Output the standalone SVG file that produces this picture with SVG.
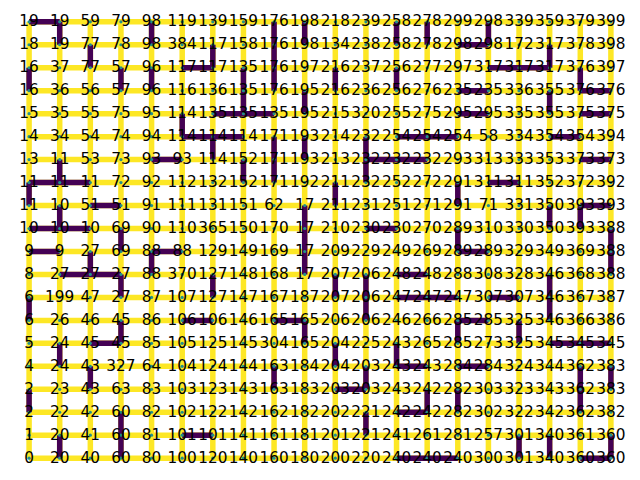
<svg xmlns="http://www.w3.org/2000/svg" width="640" height="480" viewBox="0 0 640 480">
<style>
.y{stroke:#fde725;stroke-width:5.5;fill:none}
.p{stroke:#440154;stroke-width:5.5;fill:none}
circle{fill:#22908c}
text{font-family:"DejaVu Sans",sans-serif;font-size:15.3px;fill:#000;text-anchor:middle}
</style>
<rect width="640" height="480" fill="#fff"/>
<g id="connectors">
<path class="y" d="M29.09,21.81H610.91M29.09,44.77H610.91M29.09,67.74H610.91M29.09,90.71H610.91M29.09,113.67H610.91M29.09,136.64H610.91M29.09,159.61H610.91M29.09,182.58H610.91M29.09,205.54H610.91M29.09,228.51H610.91M29.09,251.48H610.91M29.09,274.44H610.91M29.09,297.41H610.91M29.09,320.38H610.91M29.09,343.35H610.91M29.09,366.31H610.91M29.09,389.28H610.91M29.09,412.25H610.91M29.09,435.21H610.91M29.09,458.18H610.91M29.09,21.81V458.18M59.71,21.81V458.18M90.33,21.81V458.18M120.96,21.81V458.18M151.58,21.81V458.18M182.2,21.81V458.18M212.82,21.81V458.18M243.44,21.81V458.18M274.07,21.81V458.18M304.69,21.81V458.18M335.31,21.81V458.18M365.93,21.81V458.18M396.55,21.81V458.18M427.18,21.81V458.18M457.8,21.81V458.18M488.42,21.81V458.18M519.04,21.81V458.18M549.66,21.81V458.18M580.29,21.81V458.18M610.91,21.81V458.18"/>
<path class="p" d="M29.09,21.81H59.71M457.8,44.77H488.42M182.2,67.74H212.82M488.42,67.74H549.66M457.8,90.71H488.42M580.29,90.71H610.91M212.82,113.67H274.07M457.8,113.67H488.42M580.29,113.67H610.91M182.2,136.64H243.44M396.55,136.64H457.8M549.66,136.64H580.29M151.58,159.61H182.2M365.93,159.61H427.18M580.29,159.61H610.91M29.09,182.58H90.33M488.42,182.58H519.04M90.33,205.54H120.96M580.29,205.54H610.91M29.09,228.51H90.33M365.93,228.51H396.55M29.09,251.48H59.71M151.58,251.48H182.2M457.8,251.48H488.42M59.71,274.44H120.96M396.55,274.44H427.18M396.55,297.41H457.8M488.42,297.41H519.04M182.2,320.38H212.82M274.07,320.38H304.69M457.8,320.38H488.42M90.33,343.35H120.96M549.66,343.35H610.91M396.55,366.31H427.18M457.8,366.31H488.42M335.31,389.28H365.93M396.55,412.25H427.18M182.2,435.21H212.82M396.55,458.18H457.8M580.29,458.18H610.91
M29.09,67.74V90.71M29.09,182.58V205.54M29.09,297.41V320.38M29.09,389.28V412.25
M59.71,21.81V44.77M59.71,159.61V182.58M59.71,205.54V228.51M59.71,343.35V366.31M59.71,435.21V458.18
M90.33,44.77V67.74M90.33,251.48V274.44M90.33,366.31V389.28
M120.96,67.74V90.71M120.96,228.51V251.48M120.96,274.44V297.41M120.96,320.38V343.35M120.96,412.25V458.18
M151.58,21.81V44.77M151.58,67.74V90.71M151.58,251.48V274.44
M182.2,113.67V136.64
M212.82,44.77V67.74M212.82,136.64V159.61M212.82,274.44V297.41
M243.44,67.74V113.67M243.44,159.61V182.58
M274.07,21.81V90.71M274.07,136.64V182.58M274.07,366.31V389.28
M304.69,21.81V44.77M304.69,90.71V113.67M304.69,136.64V159.61M304.69,205.54V274.44M304.69,320.38V343.35
M335.31,67.74V90.71M335.31,182.58V205.54M335.31,274.44V297.41M335.31,343.35V366.31
M365.93,136.64V182.58M365.93,274.44V320.38M365.93,366.31V389.28M365.93,412.25V435.21
M396.55,21.81V44.77M396.55,67.74V90.71M396.55,343.35V366.31
M427.18,21.81V44.77M427.18,389.28V412.25
M457.8,182.58V205.54M457.8,228.51V251.48M457.8,320.38V343.35M457.8,389.28V412.25
M488.42,21.81V44.77
M519.04,320.38V343.35M519.04,435.21V458.18
M549.66,44.77V67.74M549.66,90.71V113.67M549.66,205.54V228.51M549.66,274.44V320.38M549.66,435.21V458.18
M580.29,67.74V90.71M580.29,205.54V228.51M580.29,366.31V412.25
M610.91,228.51V274.44M610.91,366.31V389.28M610.91,435.21V458.18"/>
</g>
<g id="nodes">
<g id="n0_19" transform="translate(29.09,21.81)"><circle r="1.6"/><text y="4.5">19</text></g>
<g id="n1_19" transform="translate(59.71,21.81)"><circle r="1.6"/><text y="4.5">19</text></g>
<g id="n2_19" transform="translate(90.33,21.81)"><circle r="1.6"/><text y="4.5">59</text></g>
<g id="n3_19" transform="translate(120.96,21.81)"><circle r="1.6"/><text y="4.5">79</text></g>
<g id="n4_19" transform="translate(151.58,21.81)"><circle r="1.6"/><text y="4.5">98</text></g>
<g id="n5_19" transform="translate(182.2,21.81)"><circle r="1.6"/><text y="4.5">119</text></g>
<g id="n6_19" transform="translate(212.82,21.81)"><circle r="1.6"/><text y="4.5">139</text></g>
<g id="n7_19" transform="translate(243.44,21.81)"><circle r="1.6"/><text y="4.5">159</text></g>
<g id="n8_19" transform="translate(274.07,21.81)"><circle r="1.6"/><text y="4.5">176</text></g>
<g id="n9_19" transform="translate(304.69,21.81)"><circle r="1.6"/><text y="4.5">198</text></g>
<g id="n10_19" transform="translate(335.31,21.81)"><circle r="1.6"/><text y="4.5">218</text></g>
<g id="n11_19" transform="translate(365.93,21.81)"><circle r="1.6"/><text y="4.5">239</text></g>
<g id="n12_19" transform="translate(396.55,21.81)"><circle r="1.6"/><text y="4.5">258</text></g>
<g id="n13_19" transform="translate(427.18,21.81)"><circle r="1.6"/><text y="4.5">278</text></g>
<g id="n14_19" transform="translate(457.8,21.81)"><circle r="1.6"/><text y="4.5">299</text></g>
<g id="n15_19" transform="translate(488.42,21.81)"><circle r="1.6"/><text y="4.5">298</text></g>
<g id="n16_19" transform="translate(519.04,21.81)"><circle r="1.6"/><text y="4.5">339</text></g>
<g id="n17_19" transform="translate(549.66,21.81)"><circle r="1.6"/><text y="4.5">359</text></g>
<g id="n18_19" transform="translate(580.29,21.81)"><circle r="1.6"/><text y="4.5">379</text></g>
<g id="n19_19" transform="translate(610.91,21.81)"><circle r="1.6"/><text y="4.5">399</text></g>
<g id="n0_18" transform="translate(29.09,44.77)"><circle r="1.6"/><text y="4.5">18</text></g>
<g id="n1_18" transform="translate(59.71,44.77)"><circle r="1.6"/><text y="4.5">19</text></g>
<g id="n2_18" transform="translate(90.33,44.77)"><circle r="1.6"/><text y="4.5">77</text></g>
<g id="n3_18" transform="translate(120.96,44.77)"><circle r="1.6"/><text y="4.5">78</text></g>
<g id="n4_18" transform="translate(151.58,44.77)"><circle r="1.6"/><text y="4.5">98</text></g>
<g id="n5_18" transform="translate(182.2,44.77)"><circle r="1.6"/><text y="4.5">384</text></g>
<g id="n6_18" transform="translate(212.82,44.77)"><circle r="1.6"/><text y="4.5">117</text></g>
<g id="n7_18" transform="translate(243.44,44.77)"><circle r="1.6"/><text y="4.5">158</text></g>
<g id="n8_18" transform="translate(274.07,44.77)"><circle r="1.6"/><text y="4.5">176</text></g>
<g id="n9_18" transform="translate(304.69,44.77)"><circle r="1.6"/><text y="4.5">198</text></g>
<g id="n10_18" transform="translate(335.31,44.77)"><circle r="1.6"/><text y="4.5">134</text></g>
<g id="n11_18" transform="translate(365.93,44.77)"><circle r="1.6"/><text y="4.5">238</text></g>
<g id="n12_18" transform="translate(396.55,44.77)"><circle r="1.6"/><text y="4.5">258</text></g>
<g id="n13_18" transform="translate(427.18,44.77)"><circle r="1.6"/><text y="4.5">278</text></g>
<g id="n14_18" transform="translate(457.8,44.77)"><circle r="1.6"/><text y="4.5">298</text></g>
<g id="n15_18" transform="translate(488.42,44.77)"><circle r="1.6"/><text y="4.5">298</text></g>
<g id="n16_18" transform="translate(519.04,44.77)"><circle r="1.6"/><text y="4.5">172</text></g>
<g id="n17_18" transform="translate(549.66,44.77)"><circle r="1.6"/><text y="4.5">317</text></g>
<g id="n18_18" transform="translate(580.29,44.77)"><circle r="1.6"/><text y="4.5">378</text></g>
<g id="n19_18" transform="translate(610.91,44.77)"><circle r="1.6"/><text y="4.5">398</text></g>
<g id="n0_17" transform="translate(29.09,67.74)"><circle r="1.6"/><text y="4.5">16</text></g>
<g id="n1_17" transform="translate(59.71,67.74)"><circle r="1.6"/><text y="4.5">37</text></g>
<g id="n2_17" transform="translate(90.33,67.74)"><circle r="1.6"/><text y="4.5">77</text></g>
<g id="n3_17" transform="translate(120.96,67.74)"><circle r="1.6"/><text y="4.5">57</text></g>
<g id="n4_17" transform="translate(151.58,67.74)"><circle r="1.6"/><text y="4.5">96</text></g>
<g id="n5_17" transform="translate(182.2,67.74)"><circle r="1.6"/><text y="4.5">117</text></g>
<g id="n6_17" transform="translate(212.82,67.74)"><circle r="1.6"/><text y="4.5">117</text></g>
<g id="n7_17" transform="translate(243.44,67.74)"><circle r="1.6"/><text y="4.5">135</text></g>
<g id="n8_17" transform="translate(274.07,67.74)"><circle r="1.6"/><text y="4.5">176</text></g>
<g id="n9_17" transform="translate(304.69,67.74)"><circle r="1.6"/><text y="4.5">197</text></g>
<g id="n10_17" transform="translate(335.31,67.74)"><circle r="1.6"/><text y="4.5">216</text></g>
<g id="n11_17" transform="translate(365.93,67.74)"><circle r="1.6"/><text y="4.5">237</text></g>
<g id="n12_17" transform="translate(396.55,67.74)"><circle r="1.6"/><text y="4.5">256</text></g>
<g id="n13_17" transform="translate(427.18,67.74)"><circle r="1.6"/><text y="4.5">277</text></g>
<g id="n14_17" transform="translate(457.8,67.74)"><circle r="1.6"/><text y="4.5">297</text></g>
<g id="n15_17" transform="translate(488.42,67.74)"><circle r="1.6"/><text y="4.5">317</text></g>
<g id="n16_17" transform="translate(519.04,67.74)"><circle r="1.6"/><text y="4.5">317</text></g>
<g id="n17_17" transform="translate(549.66,67.74)"><circle r="1.6"/><text y="4.5">317</text></g>
<g id="n18_17" transform="translate(580.29,67.74)"><circle r="1.6"/><text y="4.5">376</text></g>
<g id="n19_17" transform="translate(610.91,67.74)"><circle r="1.6"/><text y="4.5">397</text></g>
<g id="n0_16" transform="translate(29.09,90.71)"><circle r="1.6"/><text y="4.5">16</text></g>
<g id="n1_16" transform="translate(59.71,90.71)"><circle r="1.6"/><text y="4.5">36</text></g>
<g id="n2_16" transform="translate(90.33,90.71)"><circle r="1.6"/><text y="4.5">56</text></g>
<g id="n3_16" transform="translate(120.96,90.71)"><circle r="1.6"/><text y="4.5">57</text></g>
<g id="n4_16" transform="translate(151.58,90.71)"><circle r="1.6"/><text y="4.5">96</text></g>
<g id="n5_16" transform="translate(182.2,90.71)"><circle r="1.6"/><text y="4.5">116</text></g>
<g id="n6_16" transform="translate(212.82,90.71)"><circle r="1.6"/><text y="4.5">136</text></g>
<g id="n7_16" transform="translate(243.44,90.71)"><circle r="1.6"/><text y="4.5">135</text></g>
<g id="n8_16" transform="translate(274.07,90.71)"><circle r="1.6"/><text y="4.5">176</text></g>
<g id="n9_16" transform="translate(304.69,90.71)"><circle r="1.6"/><text y="4.5">195</text></g>
<g id="n10_16" transform="translate(335.31,90.71)"><circle r="1.6"/><text y="4.5">216</text></g>
<g id="n11_16" transform="translate(365.93,90.71)"><circle r="1.6"/><text y="4.5">236</text></g>
<g id="n12_16" transform="translate(396.55,90.71)"><circle r="1.6"/><text y="4.5">256</text></g>
<g id="n13_16" transform="translate(427.18,90.71)"><circle r="1.6"/><text y="4.5">276</text></g>
<g id="n14_16" transform="translate(457.8,90.71)"><circle r="1.6"/><text y="4.5">235</text></g>
<g id="n15_16" transform="translate(488.42,90.71)"><circle r="1.6"/><text y="4.5">235</text></g>
<g id="n16_16" transform="translate(519.04,90.71)"><circle r="1.6"/><text y="4.5">336</text></g>
<g id="n17_16" transform="translate(549.66,90.71)"><circle r="1.6"/><text y="4.5">355</text></g>
<g id="n18_16" transform="translate(580.29,90.71)"><circle r="1.6"/><text y="4.5">376</text></g>
<g id="n19_16" transform="translate(610.91,90.71)"><circle r="1.6"/><text y="4.5">376</text></g>
<g id="n0_15" transform="translate(29.09,113.67)"><circle r="1.6"/><text y="4.5">15</text></g>
<g id="n1_15" transform="translate(59.71,113.67)"><circle r="1.6"/><text y="4.5">35</text></g>
<g id="n2_15" transform="translate(90.33,113.67)"><circle r="1.6"/><text y="4.5">55</text></g>
<g id="n3_15" transform="translate(120.96,113.67)"><circle r="1.6"/><text y="4.5">75</text></g>
<g id="n4_15" transform="translate(151.58,113.67)"><circle r="1.6"/><text y="4.5">95</text></g>
<g id="n5_15" transform="translate(182.2,113.67)"><circle r="1.6"/><text y="4.5">114</text></g>
<g id="n6_15" transform="translate(212.82,113.67)"><circle r="1.6"/><text y="4.5">135</text></g>
<g id="n7_15" transform="translate(243.44,113.67)"><circle r="1.6"/><text y="4.5">135</text></g>
<g id="n8_15" transform="translate(274.07,113.67)"><circle r="1.6"/><text y="4.5">135</text></g>
<g id="n9_15" transform="translate(304.69,113.67)"><circle r="1.6"/><text y="4.5">195</text></g>
<g id="n10_15" transform="translate(335.31,113.67)"><circle r="1.6"/><text y="4.5">215</text></g>
<g id="n11_15" transform="translate(365.93,113.67)"><circle r="1.6"/><text y="4.5">320</text></g>
<g id="n12_15" transform="translate(396.55,113.67)"><circle r="1.6"/><text y="4.5">255</text></g>
<g id="n13_15" transform="translate(427.18,113.67)"><circle r="1.6"/><text y="4.5">275</text></g>
<g id="n14_15" transform="translate(457.8,113.67)"><circle r="1.6"/><text y="4.5">295</text></g>
<g id="n15_15" transform="translate(488.42,113.67)"><circle r="1.6"/><text y="4.5">295</text></g>
<g id="n16_15" transform="translate(519.04,113.67)"><circle r="1.6"/><text y="4.5">335</text></g>
<g id="n17_15" transform="translate(549.66,113.67)"><circle r="1.6"/><text y="4.5">355</text></g>
<g id="n18_15" transform="translate(580.29,113.67)"><circle r="1.6"/><text y="4.5">375</text></g>
<g id="n19_15" transform="translate(610.91,113.67)"><circle r="1.6"/><text y="4.5">375</text></g>
<g id="n0_14" transform="translate(29.09,136.64)"><circle r="1.6"/><text y="4.5">14</text></g>
<g id="n1_14" transform="translate(59.71,136.64)"><circle r="1.6"/><text y="4.5">34</text></g>
<g id="n2_14" transform="translate(90.33,136.64)"><circle r="1.6"/><text y="4.5">54</text></g>
<g id="n3_14" transform="translate(120.96,136.64)"><circle r="1.6"/><text y="4.5">74</text></g>
<g id="n4_14" transform="translate(151.58,136.64)"><circle r="1.6"/><text y="4.5">94</text></g>
<g id="n5_14" transform="translate(182.2,136.64)"><circle r="1.6"/><text y="4.5">114</text></g>
<g id="n6_14" transform="translate(212.82,136.64)"><circle r="1.6"/><text y="4.5">114</text></g>
<g id="n7_14" transform="translate(243.44,136.64)"><circle r="1.6"/><text y="4.5">114</text></g>
<g id="n8_14" transform="translate(274.07,136.64)"><circle r="1.6"/><text y="4.5">171</text></g>
<g id="n9_14" transform="translate(304.69,136.64)"><circle r="1.6"/><text y="4.5">193</text></g>
<g id="n10_14" transform="translate(335.31,136.64)"><circle r="1.6"/><text y="4.5">214</text></g>
<g id="n11_14" transform="translate(365.93,136.64)"><circle r="1.6"/><text y="4.5">232</text></g>
<g id="n12_14" transform="translate(396.55,136.64)"><circle r="1.6"/><text y="4.5">254</text></g>
<g id="n13_14" transform="translate(427.18,136.64)"><circle r="1.6"/><text y="4.5">254</text></g>
<g id="n14_14" transform="translate(457.8,136.64)"><circle r="1.6"/><text y="4.5">254</text></g>
<g id="n15_14" transform="translate(488.42,136.64)"><circle r="1.6"/><text y="4.5">58</text></g>
<g id="n16_14" transform="translate(519.04,136.64)"><circle r="1.6"/><text y="4.5">334</text></g>
<g id="n17_14" transform="translate(549.66,136.64)"><circle r="1.6"/><text y="4.5">354</text></g>
<g id="n18_14" transform="translate(580.29,136.64)"><circle r="1.6"/><text y="4.5">354</text></g>
<g id="n19_14" transform="translate(610.91,136.64)"><circle r="1.6"/><text y="4.5">394</text></g>
<g id="n0_13" transform="translate(29.09,159.61)"><circle r="1.6"/><text y="4.5">13</text></g>
<g id="n1_13" transform="translate(59.71,159.61)"><circle r="1.6"/><text y="4.5">11</text></g>
<g id="n2_13" transform="translate(90.33,159.61)"><circle r="1.6"/><text y="4.5">53</text></g>
<g id="n3_13" transform="translate(120.96,159.61)"><circle r="1.6"/><text y="4.5">73</text></g>
<g id="n4_13" transform="translate(151.58,159.61)"><circle r="1.6"/><text y="4.5">93</text></g>
<g id="n5_13" transform="translate(182.2,159.61)"><circle r="1.6"/><text y="4.5">93</text></g>
<g id="n6_13" transform="translate(212.82,159.61)"><circle r="1.6"/><text y="4.5">114</text></g>
<g id="n7_13" transform="translate(243.44,159.61)"><circle r="1.6"/><text y="4.5">152</text></g>
<g id="n8_13" transform="translate(274.07,159.61)"><circle r="1.6"/><text y="4.5">171</text></g>
<g id="n9_13" transform="translate(304.69,159.61)"><circle r="1.6"/><text y="4.5">193</text></g>
<g id="n10_13" transform="translate(335.31,159.61)"><circle r="1.6"/><text y="4.5">213</text></g>
<g id="n11_13" transform="translate(365.93,159.61)"><circle r="1.6"/><text y="4.5">232</text></g>
<g id="n12_13" transform="translate(396.55,159.61)"><circle r="1.6"/><text y="4.5">232</text></g>
<g id="n13_13" transform="translate(427.18,159.61)"><circle r="1.6"/><text y="4.5">232</text></g>
<g id="n14_13" transform="translate(457.8,159.61)"><circle r="1.6"/><text y="4.5">293</text></g>
<g id="n15_13" transform="translate(488.42,159.61)"><circle r="1.6"/><text y="4.5">313</text></g>
<g id="n16_13" transform="translate(519.04,159.61)"><circle r="1.6"/><text y="4.5">333</text></g>
<g id="n17_13" transform="translate(549.66,159.61)"><circle r="1.6"/><text y="4.5">353</text></g>
<g id="n18_13" transform="translate(580.29,159.61)"><circle r="1.6"/><text y="4.5">373</text></g>
<g id="n19_13" transform="translate(610.91,159.61)"><circle r="1.6"/><text y="4.5">373</text></g>
<g id="n0_12" transform="translate(29.09,182.58)"><circle r="1.6"/><text y="4.5">11</text></g>
<g id="n1_12" transform="translate(59.71,182.58)"><circle r="1.6"/><text y="4.5">11</text></g>
<g id="n2_12" transform="translate(90.33,182.58)"><circle r="1.6"/><text y="4.5">11</text></g>
<g id="n3_12" transform="translate(120.96,182.58)"><circle r="1.6"/><text y="4.5">72</text></g>
<g id="n4_12" transform="translate(151.58,182.58)"><circle r="1.6"/><text y="4.5">92</text></g>
<g id="n5_12" transform="translate(182.2,182.58)"><circle r="1.6"/><text y="4.5">112</text></g>
<g id="n6_12" transform="translate(212.82,182.58)"><circle r="1.6"/><text y="4.5">132</text></g>
<g id="n7_12" transform="translate(243.44,182.58)"><circle r="1.6"/><text y="4.5">152</text></g>
<g id="n8_12" transform="translate(274.07,182.58)"><circle r="1.6"/><text y="4.5">171</text></g>
<g id="n9_12" transform="translate(304.69,182.58)"><circle r="1.6"/><text y="4.5">192</text></g>
<g id="n10_12" transform="translate(335.31,182.58)"><circle r="1.6"/><text y="4.5">211</text></g>
<g id="n11_12" transform="translate(365.93,182.58)"><circle r="1.6"/><text y="4.5">232</text></g>
<g id="n12_12" transform="translate(396.55,182.58)"><circle r="1.6"/><text y="4.5">252</text></g>
<g id="n13_12" transform="translate(427.18,182.58)"><circle r="1.6"/><text y="4.5">272</text></g>
<g id="n14_12" transform="translate(457.8,182.58)"><circle r="1.6"/><text y="4.5">291</text></g>
<g id="n15_12" transform="translate(488.42,182.58)"><circle r="1.6"/><text y="4.5">311</text></g>
<g id="n16_12" transform="translate(519.04,182.58)"><circle r="1.6"/><text y="4.5">311</text></g>
<g id="n17_12" transform="translate(549.66,182.58)"><circle r="1.6"/><text y="4.5">352</text></g>
<g id="n18_12" transform="translate(580.29,182.58)"><circle r="1.6"/><text y="4.5">372</text></g>
<g id="n19_12" transform="translate(610.91,182.58)"><circle r="1.6"/><text y="4.5">392</text></g>
<g id="n0_11" transform="translate(29.09,205.54)"><circle r="1.6"/><text y="4.5">11</text></g>
<g id="n1_11" transform="translate(59.71,205.54)"><circle r="1.6"/><text y="4.5">10</text></g>
<g id="n2_11" transform="translate(90.33,205.54)"><circle r="1.6"/><text y="4.5">51</text></g>
<g id="n3_11" transform="translate(120.96,205.54)"><circle r="1.6"/><text y="4.5">51</text></g>
<g id="n4_11" transform="translate(151.58,205.54)"><circle r="1.6"/><text y="4.5">91</text></g>
<g id="n5_11" transform="translate(182.2,205.54)"><circle r="1.6"/><text y="4.5">111</text></g>
<g id="n6_11" transform="translate(212.82,205.54)"><circle r="1.6"/><text y="4.5">131</text></g>
<g id="n7_11" transform="translate(243.44,205.54)"><circle r="1.6"/><text y="4.5">151</text></g>
<g id="n8_11" transform="translate(274.07,205.54)"><circle r="1.6"/><text y="4.5">62</text></g>
<g id="n9_11" transform="translate(304.69,205.54)"><circle r="1.6"/><text y="4.5">17</text></g>
<g id="n10_11" transform="translate(335.31,205.54)"><circle r="1.6"/><text y="4.5">211</text></g>
<g id="n11_11" transform="translate(365.93,205.54)"><circle r="1.6"/><text y="4.5">231</text></g>
<g id="n12_11" transform="translate(396.55,205.54)"><circle r="1.6"/><text y="4.5">251</text></g>
<g id="n13_11" transform="translate(427.18,205.54)"><circle r="1.6"/><text y="4.5">271</text></g>
<g id="n14_11" transform="translate(457.8,205.54)"><circle r="1.6"/><text y="4.5">291</text></g>
<g id="n15_11" transform="translate(488.42,205.54)"><circle r="1.6"/><text y="4.5">71</text></g>
<g id="n16_11" transform="translate(519.04,205.54)"><circle r="1.6"/><text y="4.5">331</text></g>
<g id="n17_11" transform="translate(549.66,205.54)"><circle r="1.6"/><text y="4.5">350</text></g>
<g id="n18_11" transform="translate(580.29,205.54)"><circle r="1.6"/><text y="4.5">393</text></g>
<g id="n19_11" transform="translate(610.91,205.54)"><circle r="1.6"/><text y="4.5">393</text></g>
<g id="n0_10" transform="translate(29.09,228.51)"><circle r="1.6"/><text y="4.5">10</text></g>
<g id="n1_10" transform="translate(59.71,228.51)"><circle r="1.6"/><text y="4.5">10</text></g>
<g id="n2_10" transform="translate(90.33,228.51)"><circle r="1.6"/><text y="4.5">10</text></g>
<g id="n3_10" transform="translate(120.96,228.51)"><circle r="1.6"/><text y="4.5">69</text></g>
<g id="n4_10" transform="translate(151.58,228.51)"><circle r="1.6"/><text y="4.5">90</text></g>
<g id="n5_10" transform="translate(182.2,228.51)"><circle r="1.6"/><text y="4.5">110</text></g>
<g id="n6_10" transform="translate(212.82,228.51)"><circle r="1.6"/><text y="4.5">365</text></g>
<g id="n7_10" transform="translate(243.44,228.51)"><circle r="1.6"/><text y="4.5">150</text></g>
<g id="n8_10" transform="translate(274.07,228.51)"><circle r="1.6"/><text y="4.5">170</text></g>
<g id="n9_10" transform="translate(304.69,228.51)"><circle r="1.6"/><text y="4.5">17</text></g>
<g id="n10_10" transform="translate(335.31,228.51)"><circle r="1.6"/><text y="4.5">210</text></g>
<g id="n11_10" transform="translate(365.93,228.51)"><circle r="1.6"/><text y="4.5">230</text></g>
<g id="n12_10" transform="translate(396.55,228.51)"><circle r="1.6"/><text y="4.5">230</text></g>
<g id="n13_10" transform="translate(427.18,228.51)"><circle r="1.6"/><text y="4.5">270</text></g>
<g id="n14_10" transform="translate(457.8,228.51)"><circle r="1.6"/><text y="4.5">289</text></g>
<g id="n15_10" transform="translate(488.42,228.51)"><circle r="1.6"/><text y="4.5">310</text></g>
<g id="n16_10" transform="translate(519.04,228.51)"><circle r="1.6"/><text y="4.5">330</text></g>
<g id="n17_10" transform="translate(549.66,228.51)"><circle r="1.6"/><text y="4.5">350</text></g>
<g id="n18_10" transform="translate(580.29,228.51)"><circle r="1.6"/><text y="4.5">393</text></g>
<g id="n19_10" transform="translate(610.91,228.51)"><circle r="1.6"/><text y="4.5">388</text></g>
<g id="n0_9" transform="translate(29.09,251.48)"><circle r="1.6"/><text y="4.5">9</text></g>
<g id="n1_9" transform="translate(59.71,251.48)"><circle r="1.6"/><text y="4.5">9</text></g>
<g id="n2_9" transform="translate(90.33,251.48)"><circle r="1.6"/><text y="4.5">27</text></g>
<g id="n3_9" transform="translate(120.96,251.48)"><circle r="1.6"/><text y="4.5">69</text></g>
<g id="n4_9" transform="translate(151.58,251.48)"><circle r="1.6"/><text y="4.5">88</text></g>
<g id="n5_9" transform="translate(182.2,251.48)"><circle r="1.6"/><text y="4.5">88</text></g>
<g id="n6_9" transform="translate(212.82,251.48)"><circle r="1.6"/><text y="4.5">129</text></g>
<g id="n7_9" transform="translate(243.44,251.48)"><circle r="1.6"/><text y="4.5">149</text></g>
<g id="n8_9" transform="translate(274.07,251.48)"><circle r="1.6"/><text y="4.5">169</text></g>
<g id="n9_9" transform="translate(304.69,251.48)"><circle r="1.6"/><text y="4.5">17</text></g>
<g id="n10_9" transform="translate(335.31,251.48)"><circle r="1.6"/><text y="4.5">209</text></g>
<g id="n11_9" transform="translate(365.93,251.48)"><circle r="1.6"/><text y="4.5">229</text></g>
<g id="n12_9" transform="translate(396.55,251.48)"><circle r="1.6"/><text y="4.5">249</text></g>
<g id="n13_9" transform="translate(427.18,251.48)"><circle r="1.6"/><text y="4.5">269</text></g>
<g id="n14_9" transform="translate(457.8,251.48)"><circle r="1.6"/><text y="4.5">289</text></g>
<g id="n15_9" transform="translate(488.42,251.48)"><circle r="1.6"/><text y="4.5">289</text></g>
<g id="n16_9" transform="translate(519.04,251.48)"><circle r="1.6"/><text y="4.5">329</text></g>
<g id="n17_9" transform="translate(549.66,251.48)"><circle r="1.6"/><text y="4.5">349</text></g>
<g id="n18_9" transform="translate(580.29,251.48)"><circle r="1.6"/><text y="4.5">369</text></g>
<g id="n19_9" transform="translate(610.91,251.48)"><circle r="1.6"/><text y="4.5">388</text></g>
<g id="n0_8" transform="translate(29.09,274.44)"><circle r="1.6"/><text y="4.5">8</text></g>
<g id="n1_8" transform="translate(59.71,274.44)"><circle r="1.6"/><text y="4.5">27</text></g>
<g id="n2_8" transform="translate(90.33,274.44)"><circle r="1.6"/><text y="4.5">27</text></g>
<g id="n3_8" transform="translate(120.96,274.44)"><circle r="1.6"/><text y="4.5">27</text></g>
<g id="n4_8" transform="translate(151.58,274.44)"><circle r="1.6"/><text y="4.5">88</text></g>
<g id="n5_8" transform="translate(182.2,274.44)"><circle r="1.6"/><text y="4.5">370</text></g>
<g id="n6_8" transform="translate(212.82,274.44)"><circle r="1.6"/><text y="4.5">127</text></g>
<g id="n7_8" transform="translate(243.44,274.44)"><circle r="1.6"/><text y="4.5">148</text></g>
<g id="n8_8" transform="translate(274.07,274.44)"><circle r="1.6"/><text y="4.5">168</text></g>
<g id="n9_8" transform="translate(304.69,274.44)"><circle r="1.6"/><text y="4.5">17</text></g>
<g id="n10_8" transform="translate(335.31,274.44)"><circle r="1.6"/><text y="4.5">207</text></g>
<g id="n11_8" transform="translate(365.93,274.44)"><circle r="1.6"/><text y="4.5">206</text></g>
<g id="n12_8" transform="translate(396.55,274.44)"><circle r="1.6"/><text y="4.5">248</text></g>
<g id="n13_8" transform="translate(427.18,274.44)"><circle r="1.6"/><text y="4.5">248</text></g>
<g id="n14_8" transform="translate(457.8,274.44)"><circle r="1.6"/><text y="4.5">288</text></g>
<g id="n15_8" transform="translate(488.42,274.44)"><circle r="1.6"/><text y="4.5">308</text></g>
<g id="n16_8" transform="translate(519.04,274.44)"><circle r="1.6"/><text y="4.5">328</text></g>
<g id="n17_8" transform="translate(549.66,274.44)"><circle r="1.6"/><text y="4.5">346</text></g>
<g id="n18_8" transform="translate(580.29,274.44)"><circle r="1.6"/><text y="4.5">368</text></g>
<g id="n19_8" transform="translate(610.91,274.44)"><circle r="1.6"/><text y="4.5">388</text></g>
<g id="n0_7" transform="translate(29.09,297.41)"><circle r="1.6"/><text y="4.5">6</text></g>
<g id="n1_7" transform="translate(59.71,297.41)"><circle r="1.6"/><text y="4.5">199</text></g>
<g id="n2_7" transform="translate(90.33,297.41)"><circle r="1.6"/><text y="4.5">47</text></g>
<g id="n3_7" transform="translate(120.96,297.41)"><circle r="1.6"/><text y="4.5">27</text></g>
<g id="n4_7" transform="translate(151.58,297.41)"><circle r="1.6"/><text y="4.5">87</text></g>
<g id="n5_7" transform="translate(182.2,297.41)"><circle r="1.6"/><text y="4.5">107</text></g>
<g id="n6_7" transform="translate(212.82,297.41)"><circle r="1.6"/><text y="4.5">127</text></g>
<g id="n7_7" transform="translate(243.44,297.41)"><circle r="1.6"/><text y="4.5">147</text></g>
<g id="n8_7" transform="translate(274.07,297.41)"><circle r="1.6"/><text y="4.5">167</text></g>
<g id="n9_7" transform="translate(304.69,297.41)"><circle r="1.6"/><text y="4.5">187</text></g>
<g id="n10_7" transform="translate(335.31,297.41)"><circle r="1.6"/><text y="4.5">207</text></g>
<g id="n11_7" transform="translate(365.93,297.41)"><circle r="1.6"/><text y="4.5">206</text></g>
<g id="n12_7" transform="translate(396.55,297.41)"><circle r="1.6"/><text y="4.5">247</text></g>
<g id="n13_7" transform="translate(427.18,297.41)"><circle r="1.6"/><text y="4.5">247</text></g>
<g id="n14_7" transform="translate(457.8,297.41)"><circle r="1.6"/><text y="4.5">247</text></g>
<g id="n15_7" transform="translate(488.42,297.41)"><circle r="1.6"/><text y="4.5">307</text></g>
<g id="n16_7" transform="translate(519.04,297.41)"><circle r="1.6"/><text y="4.5">307</text></g>
<g id="n17_7" transform="translate(549.66,297.41)"><circle r="1.6"/><text y="4.5">346</text></g>
<g id="n18_7" transform="translate(580.29,297.41)"><circle r="1.6"/><text y="4.5">367</text></g>
<g id="n19_7" transform="translate(610.91,297.41)"><circle r="1.6"/><text y="4.5">387</text></g>
<g id="n0_6" transform="translate(29.09,320.38)"><circle r="1.6"/><text y="4.5">6</text></g>
<g id="n1_6" transform="translate(59.71,320.38)"><circle r="1.6"/><text y="4.5">26</text></g>
<g id="n2_6" transform="translate(90.33,320.38)"><circle r="1.6"/><text y="4.5">46</text></g>
<g id="n3_6" transform="translate(120.96,320.38)"><circle r="1.6"/><text y="4.5">45</text></g>
<g id="n4_6" transform="translate(151.58,320.38)"><circle r="1.6"/><text y="4.5">86</text></g>
<g id="n5_6" transform="translate(182.2,320.38)"><circle r="1.6"/><text y="4.5">106</text></g>
<g id="n6_6" transform="translate(212.82,320.38)"><circle r="1.6"/><text y="4.5">106</text></g>
<g id="n7_6" transform="translate(243.44,320.38)"><circle r="1.6"/><text y="4.5">146</text></g>
<g id="n8_6" transform="translate(274.07,320.38)"><circle r="1.6"/><text y="4.5">165</text></g>
<g id="n9_6" transform="translate(304.69,320.38)"><circle r="1.6"/><text y="4.5">165</text></g>
<g id="n10_6" transform="translate(335.31,320.38)"><circle r="1.6"/><text y="4.5">206</text></g>
<g id="n11_6" transform="translate(365.93,320.38)"><circle r="1.6"/><text y="4.5">206</text></g>
<g id="n12_6" transform="translate(396.55,320.38)"><circle r="1.6"/><text y="4.5">246</text></g>
<g id="n13_6" transform="translate(427.18,320.38)"><circle r="1.6"/><text y="4.5">266</text></g>
<g id="n14_6" transform="translate(457.8,320.38)"><circle r="1.6"/><text y="4.5">285</text></g>
<g id="n15_6" transform="translate(488.42,320.38)"><circle r="1.6"/><text y="4.5">285</text></g>
<g id="n16_6" transform="translate(519.04,320.38)"><circle r="1.6"/><text y="4.5">325</text></g>
<g id="n17_6" transform="translate(549.66,320.38)"><circle r="1.6"/><text y="4.5">346</text></g>
<g id="n18_6" transform="translate(580.29,320.38)"><circle r="1.6"/><text y="4.5">366</text></g>
<g id="n19_6" transform="translate(610.91,320.38)"><circle r="1.6"/><text y="4.5">386</text></g>
<g id="n0_5" transform="translate(29.09,343.35)"><circle r="1.6"/><text y="4.5">5</text></g>
<g id="n1_5" transform="translate(59.71,343.35)"><circle r="1.6"/><text y="4.5">24</text></g>
<g id="n2_5" transform="translate(90.33,343.35)"><circle r="1.6"/><text y="4.5">45</text></g>
<g id="n3_5" transform="translate(120.96,343.35)"><circle r="1.6"/><text y="4.5">45</text></g>
<g id="n4_5" transform="translate(151.58,343.35)"><circle r="1.6"/><text y="4.5">85</text></g>
<g id="n5_5" transform="translate(182.2,343.35)"><circle r="1.6"/><text y="4.5">105</text></g>
<g id="n6_5" transform="translate(212.82,343.35)"><circle r="1.6"/><text y="4.5">125</text></g>
<g id="n7_5" transform="translate(243.44,343.35)"><circle r="1.6"/><text y="4.5">145</text></g>
<g id="n8_5" transform="translate(274.07,343.35)"><circle r="1.6"/><text y="4.5">304</text></g>
<g id="n9_5" transform="translate(304.69,343.35)"><circle r="1.6"/><text y="4.5">165</text></g>
<g id="n10_5" transform="translate(335.31,343.35)"><circle r="1.6"/><text y="4.5">204</text></g>
<g id="n11_5" transform="translate(365.93,343.35)"><circle r="1.6"/><text y="4.5">225</text></g>
<g id="n12_5" transform="translate(396.55,343.35)"><circle r="1.6"/><text y="4.5">243</text></g>
<g id="n13_5" transform="translate(427.18,343.35)"><circle r="1.6"/><text y="4.5">265</text></g>
<g id="n14_5" transform="translate(457.8,343.35)"><circle r="1.6"/><text y="4.5">285</text></g>
<g id="n15_5" transform="translate(488.42,343.35)"><circle r="1.6"/><text y="4.5">273</text></g>
<g id="n16_5" transform="translate(519.04,343.35)"><circle r="1.6"/><text y="4.5">325</text></g>
<g id="n17_5" transform="translate(549.66,343.35)"><circle r="1.6"/><text y="4.5">345</text></g>
<g id="n18_5" transform="translate(580.29,343.35)"><circle r="1.6"/><text y="4.5">345</text></g>
<g id="n19_5" transform="translate(610.91,343.35)"><circle r="1.6"/><text y="4.5">345</text></g>
<g id="n0_4" transform="translate(29.09,366.31)"><circle r="1.6"/><text y="4.5">4</text></g>
<g id="n1_4" transform="translate(59.71,366.31)"><circle r="1.6"/><text y="4.5">24</text></g>
<g id="n2_4" transform="translate(90.33,366.31)"><circle r="1.6"/><text y="4.5">43</text></g>
<g id="n3_4" transform="translate(120.96,366.31)"><circle r="1.6"/><text y="4.5">327</text></g>
<g id="n4_4" transform="translate(151.58,366.31)"><circle r="1.6"/><text y="4.5">64</text></g>
<g id="n5_4" transform="translate(182.2,366.31)"><circle r="1.6"/><text y="4.5">104</text></g>
<g id="n6_4" transform="translate(212.82,366.31)"><circle r="1.6"/><text y="4.5">124</text></g>
<g id="n7_4" transform="translate(243.44,366.31)"><circle r="1.6"/><text y="4.5">144</text></g>
<g id="n8_4" transform="translate(274.07,366.31)"><circle r="1.6"/><text y="4.5">163</text></g>
<g id="n9_4" transform="translate(304.69,366.31)"><circle r="1.6"/><text y="4.5">184</text></g>
<g id="n10_4" transform="translate(335.31,366.31)"><circle r="1.6"/><text y="4.5">204</text></g>
<g id="n11_4" transform="translate(365.93,366.31)"><circle r="1.6"/><text y="4.5">203</text></g>
<g id="n12_4" transform="translate(396.55,366.31)"><circle r="1.6"/><text y="4.5">243</text></g>
<g id="n13_4" transform="translate(427.18,366.31)"><circle r="1.6"/><text y="4.5">243</text></g>
<g id="n14_4" transform="translate(457.8,366.31)"><circle r="1.6"/><text y="4.5">284</text></g>
<g id="n15_4" transform="translate(488.42,366.31)"><circle r="1.6"/><text y="4.5">284</text></g>
<g id="n16_4" transform="translate(519.04,366.31)"><circle r="1.6"/><text y="4.5">324</text></g>
<g id="n17_4" transform="translate(549.66,366.31)"><circle r="1.6"/><text y="4.5">344</text></g>
<g id="n18_4" transform="translate(580.29,366.31)"><circle r="1.6"/><text y="4.5">362</text></g>
<g id="n19_4" transform="translate(610.91,366.31)"><circle r="1.6"/><text y="4.5">383</text></g>
<g id="n0_3" transform="translate(29.09,389.28)"><circle r="1.6"/><text y="4.5">2</text></g>
<g id="n1_3" transform="translate(59.71,389.28)"><circle r="1.6"/><text y="4.5">23</text></g>
<g id="n2_3" transform="translate(90.33,389.28)"><circle r="1.6"/><text y="4.5">43</text></g>
<g id="n3_3" transform="translate(120.96,389.28)"><circle r="1.6"/><text y="4.5">63</text></g>
<g id="n4_3" transform="translate(151.58,389.28)"><circle r="1.6"/><text y="4.5">83</text></g>
<g id="n5_3" transform="translate(182.2,389.28)"><circle r="1.6"/><text y="4.5">103</text></g>
<g id="n6_3" transform="translate(212.82,389.28)"><circle r="1.6"/><text y="4.5">123</text></g>
<g id="n7_3" transform="translate(243.44,389.28)"><circle r="1.6"/><text y="4.5">143</text></g>
<g id="n8_3" transform="translate(274.07,389.28)"><circle r="1.6"/><text y="4.5">163</text></g>
<g id="n9_3" transform="translate(304.69,389.28)"><circle r="1.6"/><text y="4.5">183</text></g>
<g id="n10_3" transform="translate(335.31,389.28)"><circle r="1.6"/><text y="4.5">203</text></g>
<g id="n11_3" transform="translate(365.93,389.28)"><circle r="1.6"/><text y="4.5">203</text></g>
<g id="n12_3" transform="translate(396.55,389.28)"><circle r="1.6"/><text y="4.5">243</text></g>
<g id="n13_3" transform="translate(427.18,389.28)"><circle r="1.6"/><text y="4.5">242</text></g>
<g id="n14_3" transform="translate(457.8,389.28)"><circle r="1.6"/><text y="4.5">282</text></g>
<g id="n15_3" transform="translate(488.42,389.28)"><circle r="1.6"/><text y="4.5">303</text></g>
<g id="n16_3" transform="translate(519.04,389.28)"><circle r="1.6"/><text y="4.5">323</text></g>
<g id="n17_3" transform="translate(549.66,389.28)"><circle r="1.6"/><text y="4.5">343</text></g>
<g id="n18_3" transform="translate(580.29,389.28)"><circle r="1.6"/><text y="4.5">362</text></g>
<g id="n19_3" transform="translate(610.91,389.28)"><circle r="1.6"/><text y="4.5">383</text></g>
<g id="n0_2" transform="translate(29.09,412.25)"><circle r="1.6"/><text y="4.5">2</text></g>
<g id="n1_2" transform="translate(59.71,412.25)"><circle r="1.6"/><text y="4.5">22</text></g>
<g id="n2_2" transform="translate(90.33,412.25)"><circle r="1.6"/><text y="4.5">42</text></g>
<g id="n3_2" transform="translate(120.96,412.25)"><circle r="1.6"/><text y="4.5">60</text></g>
<g id="n4_2" transform="translate(151.58,412.25)"><circle r="1.6"/><text y="4.5">82</text></g>
<g id="n5_2" transform="translate(182.2,412.25)"><circle r="1.6"/><text y="4.5">102</text></g>
<g id="n6_2" transform="translate(212.82,412.25)"><circle r="1.6"/><text y="4.5">122</text></g>
<g id="n7_2" transform="translate(243.44,412.25)"><circle r="1.6"/><text y="4.5">142</text></g>
<g id="n8_2" transform="translate(274.07,412.25)"><circle r="1.6"/><text y="4.5">162</text></g>
<g id="n9_2" transform="translate(304.69,412.25)"><circle r="1.6"/><text y="4.5">182</text></g>
<g id="n10_2" transform="translate(335.31,412.25)"><circle r="1.6"/><text y="4.5">202</text></g>
<g id="n11_2" transform="translate(365.93,412.25)"><circle r="1.6"/><text y="4.5">221</text></g>
<g id="n12_2" transform="translate(396.55,412.25)"><circle r="1.6"/><text y="4.5">242</text></g>
<g id="n13_2" transform="translate(427.18,412.25)"><circle r="1.6"/><text y="4.5">242</text></g>
<g id="n14_2" transform="translate(457.8,412.25)"><circle r="1.6"/><text y="4.5">282</text></g>
<g id="n15_2" transform="translate(488.42,412.25)"><circle r="1.6"/><text y="4.5">302</text></g>
<g id="n16_2" transform="translate(519.04,412.25)"><circle r="1.6"/><text y="4.5">322</text></g>
<g id="n17_2" transform="translate(549.66,412.25)"><circle r="1.6"/><text y="4.5">342</text></g>
<g id="n18_2" transform="translate(580.29,412.25)"><circle r="1.6"/><text y="4.5">362</text></g>
<g id="n19_2" transform="translate(610.91,412.25)"><circle r="1.6"/><text y="4.5">382</text></g>
<g id="n0_1" transform="translate(29.09,435.21)"><circle r="1.6"/><text y="4.5">1</text></g>
<g id="n1_1" transform="translate(59.71,435.21)"><circle r="1.6"/><text y="4.5">20</text></g>
<g id="n2_1" transform="translate(90.33,435.21)"><circle r="1.6"/><text y="4.5">41</text></g>
<g id="n3_1" transform="translate(120.96,435.21)"><circle r="1.6"/><text y="4.5">60</text></g>
<g id="n4_1" transform="translate(151.58,435.21)"><circle r="1.6"/><text y="4.5">81</text></g>
<g id="n5_1" transform="translate(182.2,435.21)"><circle r="1.6"/><text y="4.5">101</text></g>
<g id="n6_1" transform="translate(212.82,435.21)"><circle r="1.6"/><text y="4.5">101</text></g>
<g id="n7_1" transform="translate(243.44,435.21)"><circle r="1.6"/><text y="4.5">141</text></g>
<g id="n8_1" transform="translate(274.07,435.21)"><circle r="1.6"/><text y="4.5">161</text></g>
<g id="n9_1" transform="translate(304.69,435.21)"><circle r="1.6"/><text y="4.5">181</text></g>
<g id="n10_1" transform="translate(335.31,435.21)"><circle r="1.6"/><text y="4.5">201</text></g>
<g id="n11_1" transform="translate(365.93,435.21)"><circle r="1.6"/><text y="4.5">221</text></g>
<g id="n12_1" transform="translate(396.55,435.21)"><circle r="1.6"/><text y="4.5">241</text></g>
<g id="n13_1" transform="translate(427.18,435.21)"><circle r="1.6"/><text y="4.5">261</text></g>
<g id="n14_1" transform="translate(457.8,435.21)"><circle r="1.6"/><text y="4.5">281</text></g>
<g id="n15_1" transform="translate(488.42,435.21)"><circle r="1.6"/><text y="4.5">257</text></g>
<g id="n16_1" transform="translate(519.04,435.21)"><circle r="1.6"/><text y="4.5">301</text></g>
<g id="n17_1" transform="translate(549.66,435.21)"><circle r="1.6"/><text y="4.5">340</text></g>
<g id="n18_1" transform="translate(580.29,435.21)"><circle r="1.6"/><text y="4.5">361</text></g>
<g id="n19_1" transform="translate(610.91,435.21)"><circle r="1.6"/><text y="4.5">360</text></g>
<g id="n0_0" transform="translate(29.09,458.18)"><circle r="1.6"/><text y="4.5">0</text></g>
<g id="n1_0" transform="translate(59.71,458.18)"><circle r="1.6"/><text y="4.5">20</text></g>
<g id="n2_0" transform="translate(90.33,458.18)"><circle r="1.6"/><text y="4.5">40</text></g>
<g id="n3_0" transform="translate(120.96,458.18)"><circle r="1.6"/><text y="4.5">60</text></g>
<g id="n4_0" transform="translate(151.58,458.18)"><circle r="1.6"/><text y="4.5">80</text></g>
<g id="n5_0" transform="translate(182.2,458.18)"><circle r="1.6"/><text y="4.5">100</text></g>
<g id="n6_0" transform="translate(212.82,458.18)"><circle r="1.6"/><text y="4.5">120</text></g>
<g id="n7_0" transform="translate(243.44,458.18)"><circle r="1.6"/><text y="4.5">140</text></g>
<g id="n8_0" transform="translate(274.07,458.18)"><circle r="1.6"/><text y="4.5">160</text></g>
<g id="n9_0" transform="translate(304.69,458.18)"><circle r="1.6"/><text y="4.5">180</text></g>
<g id="n10_0" transform="translate(335.31,458.18)"><circle r="1.6"/><text y="4.5">200</text></g>
<g id="n11_0" transform="translate(365.93,458.18)"><circle r="1.6"/><text y="4.5">220</text></g>
<g id="n12_0" transform="translate(396.55,458.18)"><circle r="1.6"/><text y="4.5">240</text></g>
<g id="n13_0" transform="translate(427.18,458.18)"><circle r="1.6"/><text y="4.5">240</text></g>
<g id="n14_0" transform="translate(457.8,458.18)"><circle r="1.6"/><text y="4.5">240</text></g>
<g id="n15_0" transform="translate(488.42,458.18)"><circle r="1.6"/><text y="4.5">300</text></g>
<g id="n16_0" transform="translate(519.04,458.18)"><circle r="1.6"/><text y="4.5">301</text></g>
<g id="n17_0" transform="translate(549.66,458.18)"><circle r="1.6"/><text y="4.5">340</text></g>
<g id="n18_0" transform="translate(580.29,458.18)"><circle r="1.6"/><text y="4.5">360</text></g>
<g id="n19_0" transform="translate(610.91,458.18)"><circle r="1.6"/><text y="4.5">360</text></g>
</g>
</svg>
